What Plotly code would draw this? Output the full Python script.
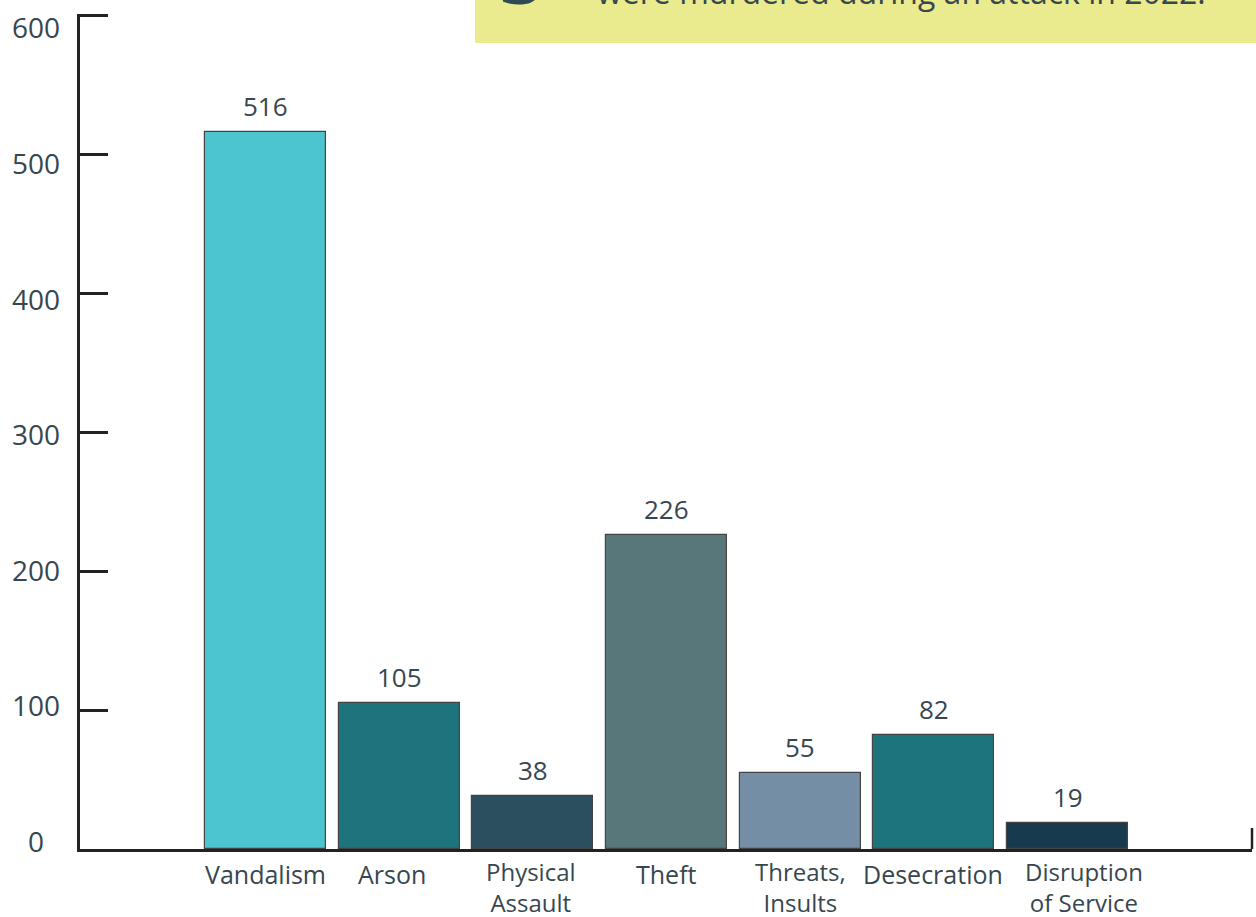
import plotly.graph_objects as go

categories = ["Vandalism", "Arson", "Physical<br>Assault", "Theft", "Threats,<br>Insults", "Desecration", "Disruption<br>of Service"]
values = [516, 105, 38, 226, 55, 82, 19]
bar_colors = ["#4dc5d1", "#1e737c", "#2c4f5f", "#57777a", "#748ea6", "#1e747c", "#183a4e"]
y_ticks = [0, 100, 200, 300, 400, 500, 600]

# horizontal nudges of the category labels (px), as typeset in the original
label_dx = [0, -7, -2, 0, 0, -1, 16]

TEXT = "#37474f"
AXIS = "#222222"

fig = go.Figure()
fig.add_trace(go.Bar(
    x=list(range(len(categories))), y=values,
    marker=dict(color=bar_colors, line=dict(color="#444444", width=1.2)),
    width=0.905, showlegend=False, hoverinfo="skip",
))

annotations = []
for i, v in enumerate(values):
    annotations.append(dict(x=i, y=v, xref="x", yref="y", text=str(v), showarrow=False,
                            yanchor="middle", yshift=26,
                            font=dict(family="Open Sans", size=26, color=TEXT)))

# category labels
for i, cat in enumerate(categories):
    two_lines = "<br>" in cat
    annotations.append(dict(x=i, y=0, xref="x", yref="y", text=cat, showarrow=False,
                            xanchor="center",
                            yanchor="top" if two_lines else "middle",
                            yshift=-4 if two_lines else -25,
                            xshift=label_dx[i],
                            font=dict(family="Open Sans", size=24 if two_lines else 25, color=TEXT)))

# y tick labels, centred in the left margin (slightly compressed spacing as in the original)
for t in y_ticks:
    annotations.append(dict(x=-44 / 1172, y=t, xref="paper", yref="y", text=str(t),
                            showarrow=False, xanchor="center", yanchor="middle",
                            yshift=8 - 20 * t / 600,
                            font=dict(family="Open Sans", size=28, color=TEXT)))

# callout box text (cut off at top of page)
annotations.append(dict(xref="paper", yref="paper", x=(595 - 80) / 1172, y=(849 - 8) / 834,
                        xanchor="left", yanchor="bottom", yshift=-8,
                        text="were murdered during an attack in 2022.", showarrow=False,
                        font=dict(family="Open Sans", size=32, color=TEXT)))
annotations.append(dict(xref="paper", yref="paper", x=(498 - 80) / 1172, y=(849 - 12) / 834,
                        xanchor="left", yanchor="bottom", yshift=-17,
                        text="<b>3</b>", showarrow=False,
                        font=dict(family="Open Sans", size=76, color="#2e4a55")))

fig.update_layout(
    width=1256, height=917,
    margin=dict(l=80, r=4, t=14, b=68),
    paper_bgcolor="white", plot_bgcolor="white",
    bargap=0,
    annotations=annotations,
    shapes=[
        dict(type="rect", xref="paper", yref="paper",
             x0=(475 - 80) / 1172, x1=(1256 - 80) / 1172,
             y0=(849 - 43) / 835, y1=(849 + 5) / 835,
             fillcolor="#eaea8e", line=dict(width=0), layer="below"),
        dict(type="line", xref="paper", yref="paper", x0=1, x1=1,
             y0=0, y1=21 / 835, line=dict(color=AXIS, width=2.5)),
    ],
)

fig.update_xaxes(
    range=[-1.388, 7.38], automargin=False,
    tickvals=list(range(len(categories))), showticklabels=False,
    showline=True, linecolor=AXIS, linewidth=2.5,
    ticks="", showgrid=False, zeroline=False,
)
fig.update_yaxes(
    range=[0, 601], automargin=False, tickvals=y_ticks,
    showline=True, linecolor=AXIS, linewidth=3,
    ticks="inside", ticklen=28, tickwidth=3, tickcolor=AXIS,
    showgrid=False, zeroline=False, showticklabels=False,
)

fig.write_html("out.html")
